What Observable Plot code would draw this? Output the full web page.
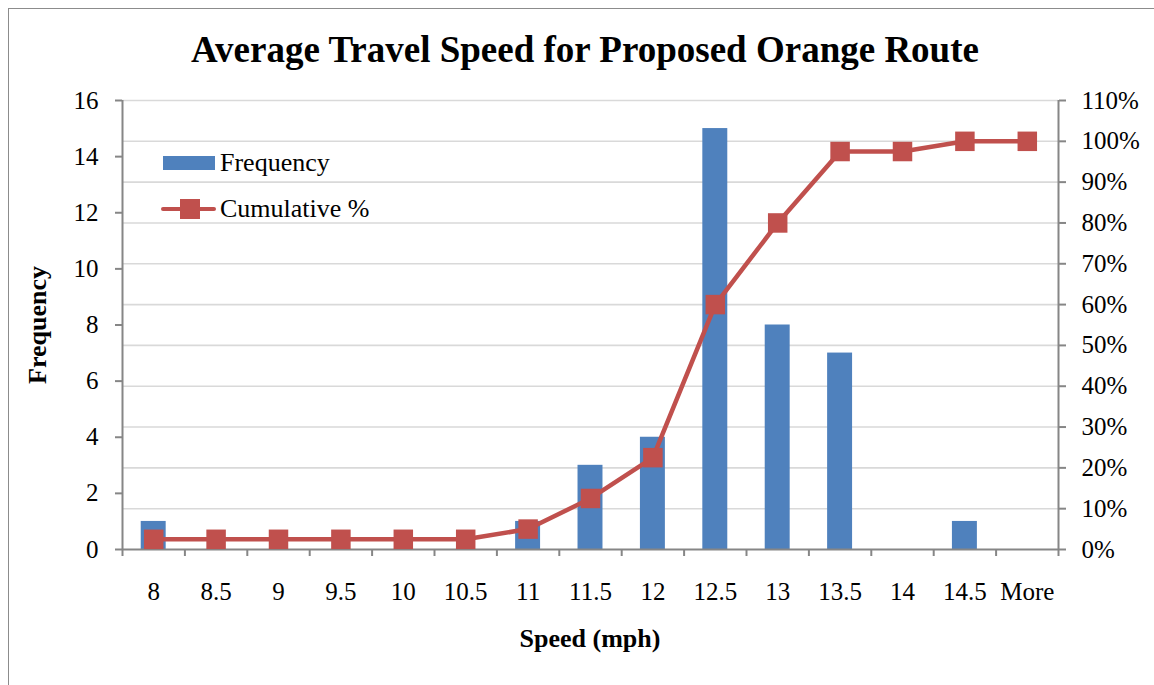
<!DOCTYPE html>
<html>
<head>
<meta charset="utf-8">
<script src="https://cdn.jsdelivr.net/npm/d3@7"></script>
<script src="https://cdn.jsdelivr.net/npm/@observablehq/plot@0.6"></script>
<style>
  html, body { margin: 0; padding: 0; background: #fff; overflow: hidden; }
  #chart { position: relative; width: 1154px; height: 685px; font-family: "Liberation Serif", "Times New Roman", serif; color: #000; }
  #chart svg.plot { position: absolute; left: 0; top: 0; }
  .frame { position: absolute; left: 8px; top: 8px; width: 1200px; height: 720px; border: 1px solid #8c8c8c; box-sizing: border-box; }
  .title { position: absolute; left: 0; top: 31px; width: 1170px; text-align: center; font-size: 37px; line-height: 37px; font-weight: bold; white-space: nowrap; }
  .xlabel { position: absolute; left: 0; top: 626px; width: 1180px; text-align: center; font-size: 26px; line-height: 26px; font-weight: bold; }
  .ylabel { position: absolute; left: 38px; top: 325px; transform: translate(-50%, -50%) rotate(-90deg); font-size: 26px; line-height: 26px; font-weight: bold; white-space: nowrap; }
  .legend-text { position: absolute; font-size: 26px; line-height: 26px; white-space: nowrap; }
  .swatch { position: absolute; }
</style>
</head>
<body>
<div id="chart">
  <div class="frame"></div>
  <div class="title">Average Travel Speed for Proposed Orange Route</div>
  <div class="ylabel">Frequency</div>
  <div class="xlabel">Speed (mph)</div>
  <div class="swatch" style="left:163px;top:156px;width:52px;height:14px;background:#4F81BD"></div>
  <div class="legend-text" style="left:220px;top:150px">Frequency</div>
  <div class="swatch" style="left:161px;top:207px;width:55px;height:4px;border-radius:2px;background:#C0504D"></div>
  <div class="swatch" style="left:180px;top:199px;width:20px;height:20px;background:#C0504D"></div>
  <div class="legend-text" style="left:220px;top:196px">Cumulative %</div>
</div>
<script>
// Histogram bins (upper bound of each speed bin, mph)
const speedBins = ["8", "8.5", "9", "9.5", "10", "10.5", "11", "11.5", "12", "12.5", "13", "13.5", "14", "14.5", "More"];
// Number of runs in each bin
const frequency = [1, 0, 0, 0, 0, 0, 1, 3, 4, 15, 8, 7, 0, 1, 0];
// Running share of all runs, percent
const cumulativePct = [2.5, 2.5, 2.5, 2.5, 2.5, 2.5, 5, 12.5, 22.5, 60, 80, 97.5, 97.5, 100, 100];
// Axis ticks
const freqTicks = [0, 2, 4, 6, 8, 10, 12, 14, 16];
const pctTicks = [0, 10, 20, 30, 40, 50, 60, 70, 80, 90, 100, 110];

const FREQ_MAX = 16, PCT_MAX = 110;
const pctToY = p => p * FREQ_MAX / PCT_MAX;   // secondary axis mapped onto the frequency scale

const rows = speedBins.map((bin, i) => ({i, bin, freq: frequency[i], pct: cumulativePct[i]}));
const binEdges = d3.range(speedBins.length + 1).map(k => k - 0.5);

const axisGray = "#868686";
const blue = "#4F81BD";
const red = "#C0504D";

const chart = Plot.plot({
  width: 1154,
  height: 685,
  marginLeft: 122,
  marginRight: 96,
  marginTop: 100,
  marginBottom: 136,
  style: {fontFamily: "'Liberation Serif', 'Times New Roman', serif", fontSize: "25px", background: "transparent", color: "#000"},
  x: {type: "linear", domain: [-0.5, speedBins.length - 0.5], axis: null},
  y: {domain: [0, FREQ_MAX], axis: null},
  marks: [
    // horizontal gridlines follow the percent axis
    Plot.gridY(pctTicks.slice(1).map(pctToY), {stroke: "#d9d9d9", strokeOpacity: 1, strokeWidth: 1.6}),
    // frequency bars
    Plot.rectY(rows, {x1: d => d.i - 0.2, x2: d => d.i + 0.2, y: "freq", fill: blue}),
    // axis lines
    Plot.ruleX([-0.5, speedBins.length - 0.5], {stroke: axisGray, strokeWidth: 2}),
    Plot.ruleY([0], {stroke: axisGray, strokeWidth: 2}),
    // left axis: frequency
    Plot.axisY(freqTicks, {anchor: "left", tickSize: 7, tickPadding: 17, stroke: axisGray, strokeWidth: 2, fill: "#000", label: null}),
    // right axis: cumulative percent
    Plot.axisY(pctTicks.map(pctToY), {anchor: "right", tickSize: 7, tickPadding: 16, stroke: axisGray, strokeWidth: 2, fill: "#000", label: null,
      tickFormat: v => Math.round(v * PCT_MAX / FREQ_MAX) + "%"}),
    // bottom axis: tick marks on bin edges, labels centred on bins
    Plot.axisX(binEdges, {anchor: "bottom", tickSize: 7, stroke: axisGray, strokeWidth: 2, tickFormat: () => "", label: null}),
    Plot.axisX(rows.map(d => d.i), {anchor: "bottom", tickSize: 0, tickPadding: 33, fill: "#000", label: null,
      tickFormat: i => speedBins[i]}),
    // cumulative percent line with square markers
    Plot.line(rows, {x: "i", y: d => pctToY(d.pct), stroke: red, strokeWidth: 4.5}),
    Plot.dot(rows, {x: "i", y: d => pctToY(d.pct), symbol: "square", r: 11, fill: red, stroke: null})
  ]
});
chart.classList.add("plot");
document.getElementById("chart").appendChild(chart);
</script>
</body>
</html>
